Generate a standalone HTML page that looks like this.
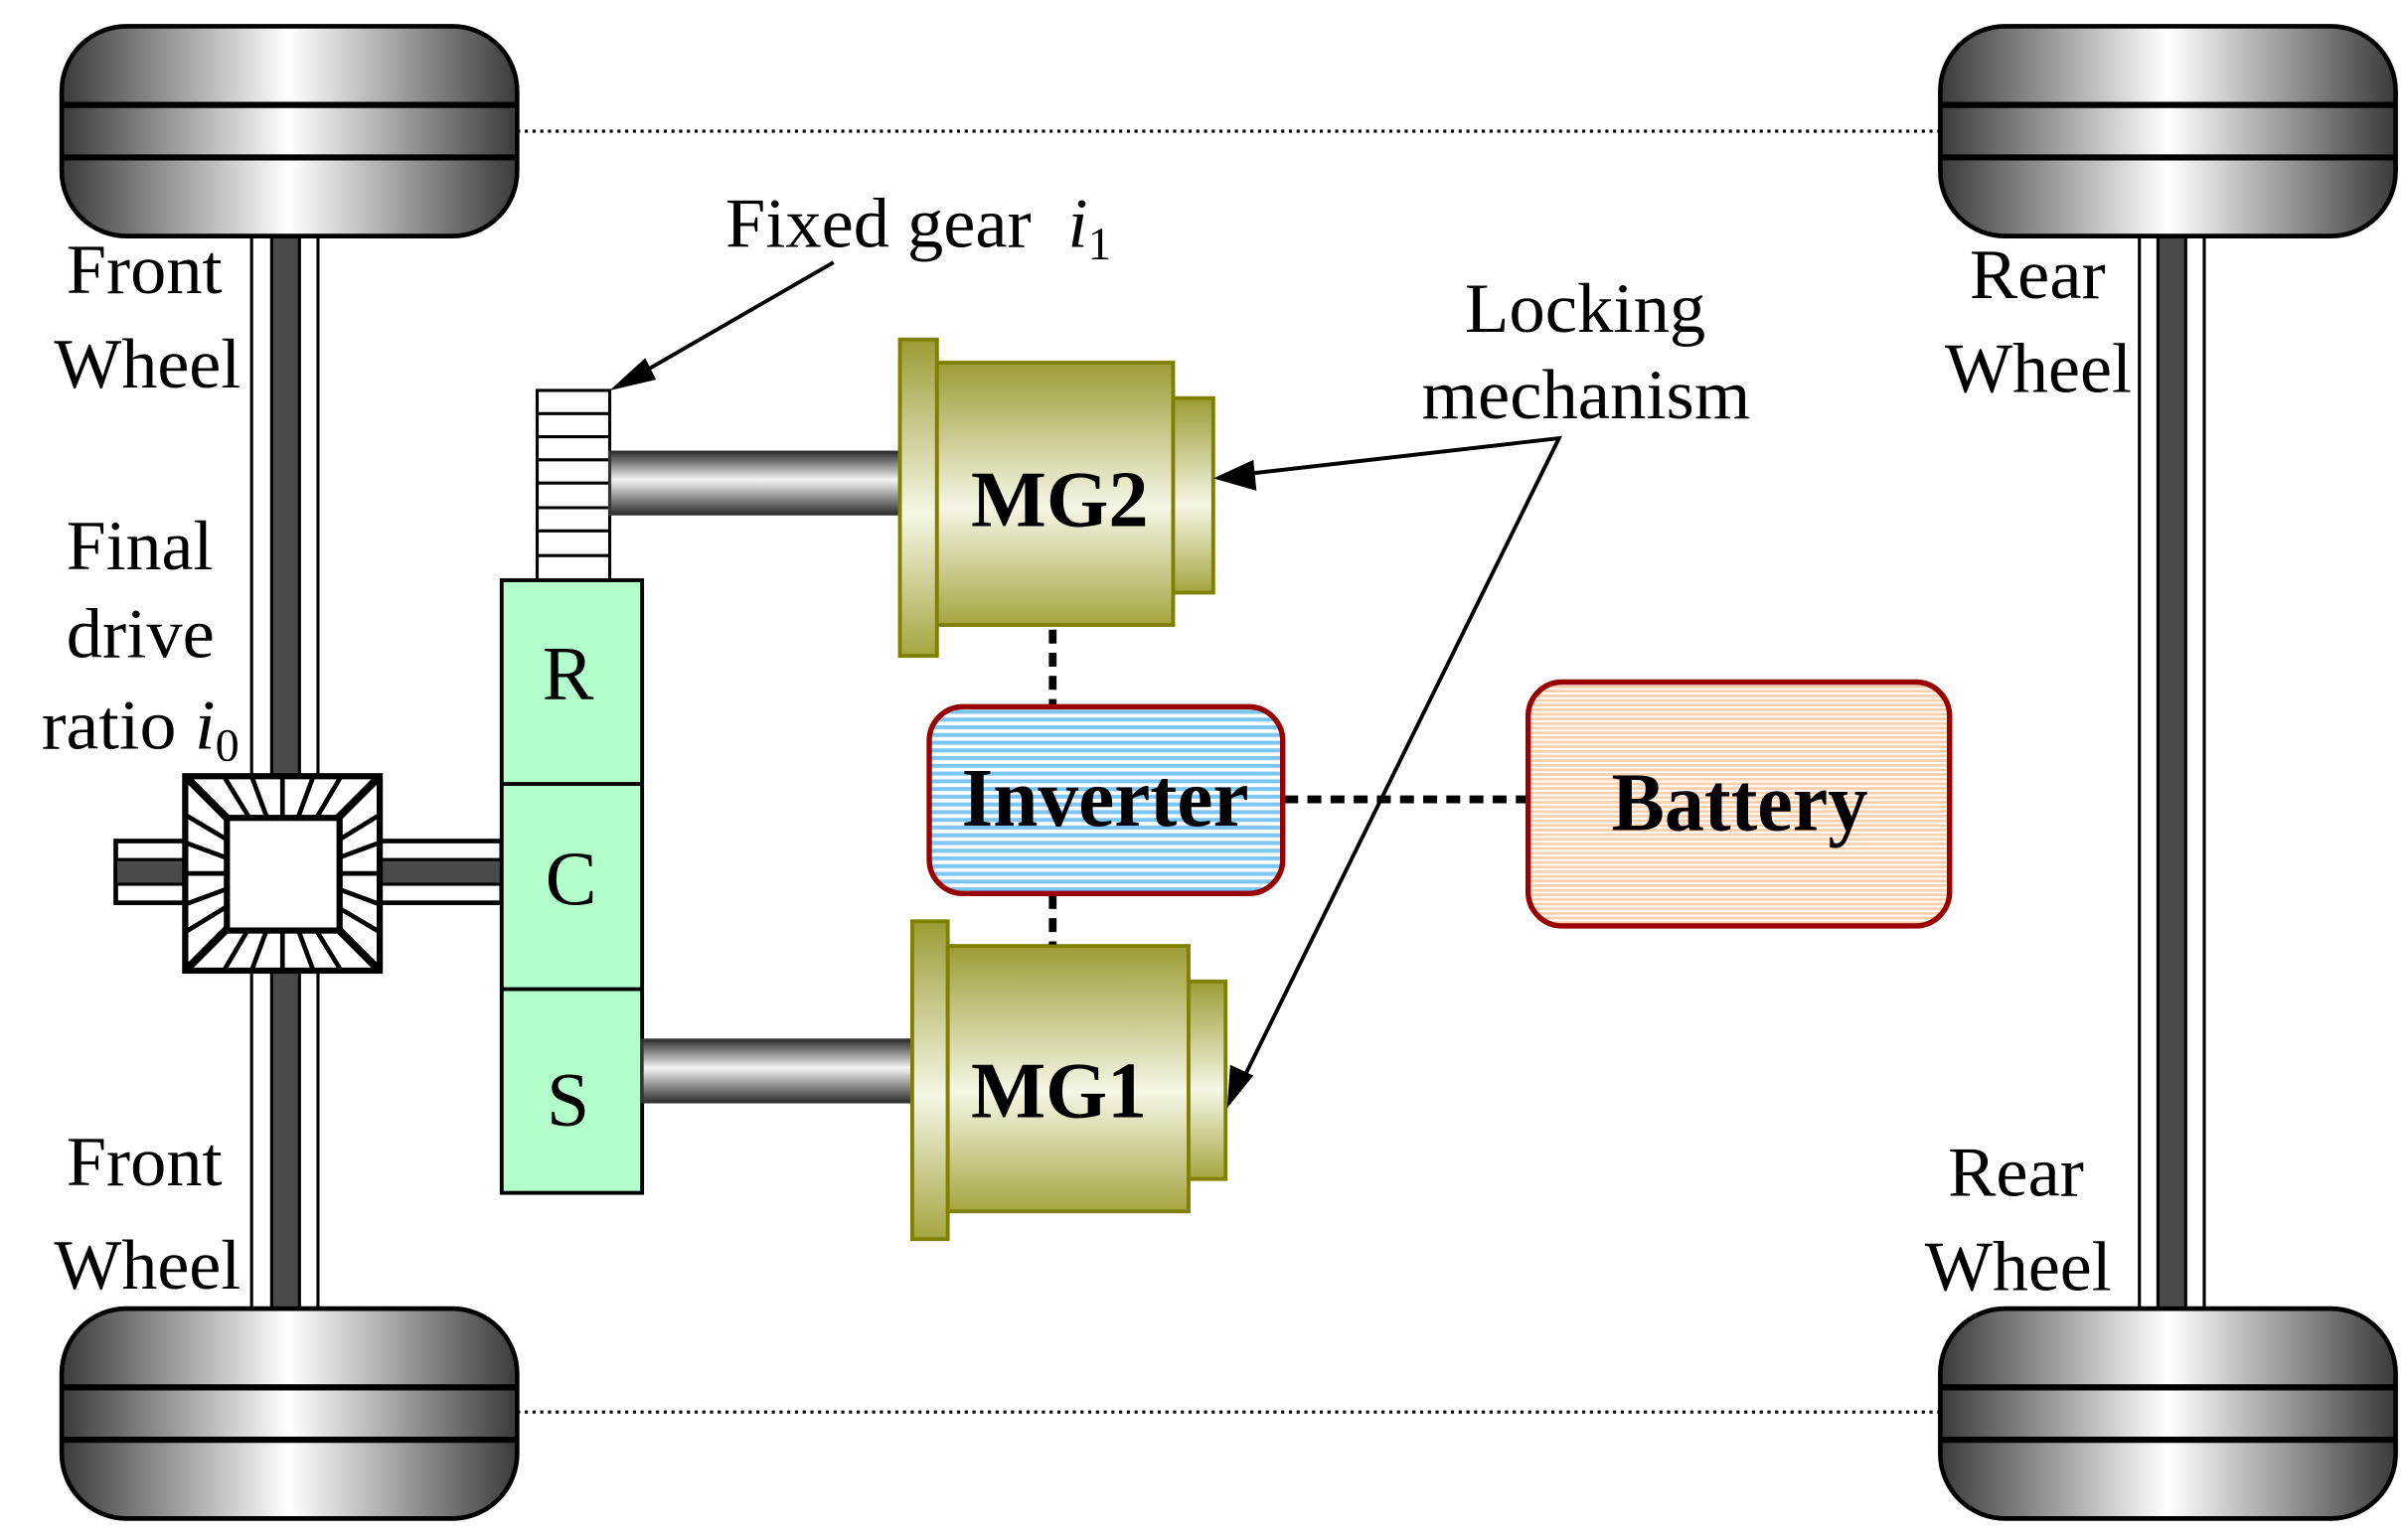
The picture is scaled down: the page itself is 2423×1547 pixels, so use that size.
<!DOCTYPE html>
<html><head><meta charset="utf-8"><style>
html,body{margin:0;padding:0;background:#fff}
svg{display:block}
text{font-family:"Liberation Serif",serif}
</style></head><body>
<svg width="2423" height="1547" viewBox="0 0 1560 996" preserveAspectRatio="none" xmlns="http://www.w3.org/2000/svg">
<defs>
<linearGradient id="tire" x1="0" x2="1" y1="0" y2="0">
<stop offset="0" stop-color="#3a3a3a"/><stop offset="0.5" stop-color="#ffffff"/><stop offset="1" stop-color="#3a3a3a"/>
</linearGradient>
<linearGradient id="shaft" x1="0" x2="0" y1="0" y2="1">
<stop offset="0" stop-color="#333"/><stop offset="0.45" stop-color="#f4f4f4"/><stop offset="1" stop-color="#333"/>
</linearGradient>
<linearGradient id="olive" x1="0" x2="0" y1="0" y2="1">
<stop offset="0" stop-color="#9c9c35"/><stop offset="0.55" stop-color="#f6f6e6"/><stop offset="1" stop-color="#a5a540"/>
</linearGradient>
<pattern id="blue" width="6" height="5" patternUnits="userSpaceOnUse">
<rect width="6" height="5" fill="#fff"/><rect width="6" height="2.6" fill="#7cc6f4"/>
</pattern>
<pattern id="peach" width="6" height="3" patternUnits="userSpaceOnUse">
<rect width="6" height="3" fill="#fff"/><rect width="6" height="1.8" fill="#fdd0ae"/>
</pattern>
<g id="wheel">
<rect x="0" y="0" width="295" height="136" rx="42" fill="url(#tire)" stroke="#000" stroke-width="3"/>
<line x1="0" y1="51" x2="295" y2="51" stroke="#000" stroke-width="4"/>
<line x1="0" y1="85" x2="295" y2="85" stroke="#000" stroke-width="4"/>
</g>
<g id="spk" stroke="#000" stroke-width="3">
<line x1="147" y1="530" x2="120" y2="503" stroke-width="5"/>
<line x1="161.6" y1="530" x2="145" y2="503"/>
<line x1="173" y1="530" x2="163" y2="503"/>
<line x1="183" y1="530" x2="183" y2="503"/>
<line x1="193" y1="530" x2="203" y2="503"/>
<line x1="205" y1="530" x2="221" y2="503"/>
</g>
</defs>

<line x1="335" y1="85" x2="1257" y2="85" stroke="#000" stroke-width="2" stroke-dasharray="2,3"/>
<line x1="335" y1="915" x2="1257" y2="915" stroke="#000" stroke-width="2" stroke-dasharray="2,3"/>

<rect x="163" y="150" width="43" height="700" fill="#fff" stroke="#000" stroke-width="2"/>
<rect x="176" y="150" width="18" height="700" fill="#4a4a4a" stroke="#000" stroke-width="2"/>
<rect x="1386" y="150" width="42" height="700" fill="#fff" stroke="#000" stroke-width="2"/>
<rect x="1398" y="150" width="18" height="700" fill="#4a4a4a" stroke="#000" stroke-width="2"/>

<use href="#wheel" x="40" y="17"/>
<use href="#wheel" x="40" y="848"/>
<use href="#wheel" x="1257" y="17"/>
<use href="#wheel" x="1257" y="848"/>

<rect x="75" y="545" width="46" height="40" fill="#fff" stroke="#000" stroke-width="3"/>
<rect x="75" y="557" width="46" height="16" fill="#4a4a4a" stroke="#000" stroke-width="2"/>
<rect x="245" y="545" width="80" height="40" fill="#fff" stroke="#000" stroke-width="3"/>
<rect x="245" y="557" width="80" height="16" fill="#4a4a4a" stroke="#000" stroke-width="2"/>
<rect x="120" y="503" width="126" height="126" fill="#fff" stroke="#000" stroke-width="4"/>
<use href="#spk"/>
<use href="#spk" transform="rotate(90 183 566)"/>
<use href="#spk" transform="rotate(180 183 566)"/>
<use href="#spk" transform="rotate(270 183 566)"/>
<rect x="147" y="530" width="73" height="73" fill="#fff" stroke="#000" stroke-width="4"/>

<rect x="348" y="253" width="47" height="124" fill="#fff" stroke="#000" stroke-width="2"/>
<g stroke="#000" stroke-width="2">
<line x1="348" y1="268" x2="395" y2="268"/><line x1="348" y1="283" x2="395" y2="283"/>
<line x1="348" y1="298" x2="395" y2="298"/><line x1="348" y1="313" x2="395" y2="313"/>
<line x1="348" y1="329" x2="395" y2="329"/><line x1="348" y1="344" x2="395" y2="344"/>
<line x1="348" y1="360" x2="395" y2="360"/>
</g>

<rect x="325" y="376" width="91" height="397" fill="#b3ffcc" stroke="#000" stroke-width="2.5"/>
<line x1="325" y1="508" x2="416" y2="508" stroke="#000" stroke-width="2.5"/>
<line x1="325" y1="641" x2="416" y2="641" stroke="#000" stroke-width="2.5"/>
<text x="368" y="453" font-size="50" text-anchor="middle">R</text>
<text x="370" y="586" font-size="50" text-anchor="middle">C</text>
<text x="368" y="729" font-size="50" text-anchor="middle">S</text>

<rect x="395" y="293" width="188" height="40" fill="url(#shaft)" stroke="#333" stroke-width="2"/>
<rect x="416" y="674" width="175" height="40" fill="url(#shaft)" stroke="#333" stroke-width="2"/>

<rect x="583" y="220" width="24" height="205" fill="url(#olive)" stroke="#808000" stroke-width="2.5"/>
<rect x="607" y="235" width="153" height="170" fill="url(#olive)" stroke="#808000" stroke-width="2.5"/>
<rect x="760" y="258" width="26" height="126" fill="url(#olive)" stroke="#808000" stroke-width="2.5"/>
<text x="629" y="341" font-size="52" font-weight="bold" textLength="115" lengthAdjust="spacingAndGlyphs">MG2</text>
<rect x="591" y="597" width="23" height="206" fill="url(#olive)" stroke="#808000" stroke-width="2.5"/>
<rect x="614" y="613" width="156" height="172" fill="url(#olive)" stroke="#808000" stroke-width="2.5"/>
<rect x="770" y="636" width="24" height="128" fill="url(#olive)" stroke="#808000" stroke-width="2.5"/>
<text x="629" y="724" font-size="52" font-weight="bold" textLength="114" lengthAdjust="spacingAndGlyphs">MG1</text>

<g stroke="#000" stroke-width="5" stroke-dasharray="9,6">
<line x1="682" y1="408" x2="682" y2="458"/>
<line x1="682" y1="580" x2="682" y2="612"/>
<line x1="832" y1="518" x2="990" y2="518"/>
</g>

<rect x="602" y="458" width="229" height="121" rx="22" fill="url(#blue)" stroke="#990000" stroke-width="3.5"/>
<text x="623" y="535" font-size="54" font-weight="bold" textLength="186" lengthAdjust="spacingAndGlyphs">Inverter</text>
<rect x="990" y="442" width="273" height="158" rx="22" fill="url(#peach)" stroke="#990000" stroke-width="3.5"/>
<text x="1044" y="538" font-size="54" font-weight="bold" textLength="166" lengthAdjust="spacingAndGlyphs">Battery</text>

<g stroke="#000" stroke-width="2.5" fill="none">
<line x1="540" y1="170" x2="410" y2="245"/>
<polyline points="800,308 1010,284 805,700"/>
</g>
<polygon points="395,253 418,232 425,246" fill="#000"/>
<polygon points="786,310 812,298 814,318" fill="#000"/>
<polygon points="795,718 797,690 812,697" fill="#000"/>

<g font-size="46">
<text x="470" y="160" textLength="250" lengthAdjust="spacingAndGlyphs">Fixed gear <tspan font-style="italic" dx="12">i</tspan><tspan font-size="30" dy="8">1</tspan></text>
<text x="949" y="215" textLength="156" lengthAdjust="spacingAndGlyphs">Locking</text>
<text x="921" y="271" textLength="213" lengthAdjust="spacingAndGlyphs">mechanism</text>
<text x="43" y="190" textLength="101" lengthAdjust="spacingAndGlyphs">Front</text>
<text x="35" y="251" textLength="121" lengthAdjust="spacingAndGlyphs">Wheel</text>
<text x="43" y="369" textLength="95" lengthAdjust="spacingAndGlyphs">Final</text>
<text x="43" y="426" textLength="96" lengthAdjust="spacingAndGlyphs">drive</text>
<text x="27" y="485" textLength="128" lengthAdjust="spacingAndGlyphs">ratio <tspan font-style="italic">i</tspan><tspan font-size="30" dy="8">0</tspan></text>
<text x="43" y="768" textLength="101" lengthAdjust="spacingAndGlyphs">Front</text>
<text x="35" y="835" textLength="121" lengthAdjust="spacingAndGlyphs">Wheel</text>
<text x="1276" y="193" textLength="88" lengthAdjust="spacingAndGlyphs">Rear</text>
<text x="1260" y="254" textLength="121" lengthAdjust="spacingAndGlyphs">Wheel</text>
<text x="1262" y="775" textLength="88" lengthAdjust="spacingAndGlyphs">Rear</text>
<text x="1247" y="836" textLength="121" lengthAdjust="spacingAndGlyphs">Wheel</text>
</g>
</svg>
</body></html>
